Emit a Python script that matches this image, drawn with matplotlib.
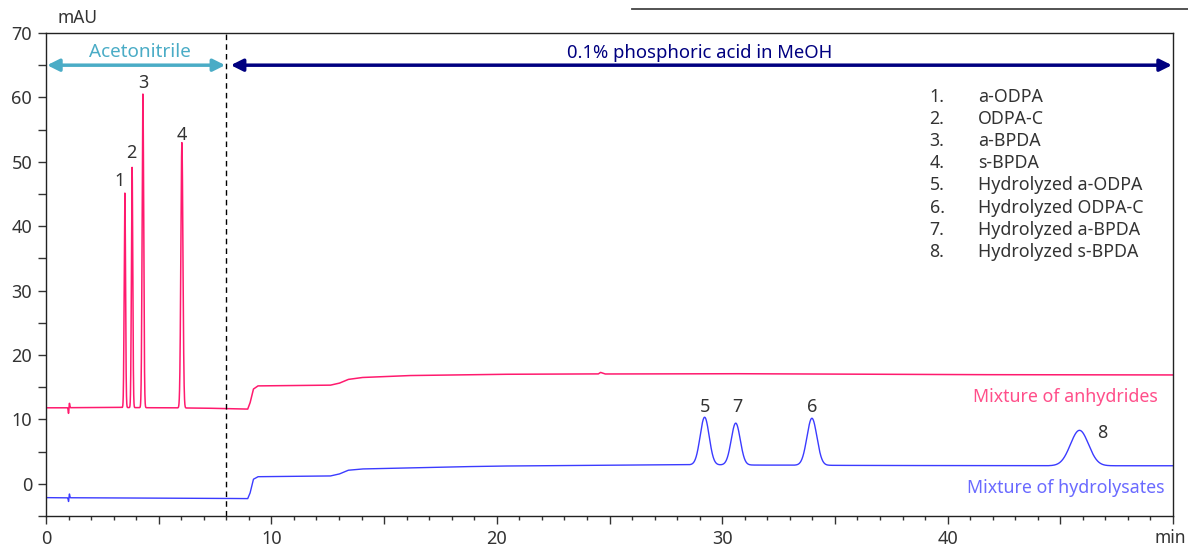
import numpy as np
import matplotlib.pyplot as plt
from matplotlib.ticker import MultipleLocator, FuncFormatter

plt.rcParams['font.family'] = ['Noto Sans', 'DejaVu Sans']

# peak tables: retention time (min), height above baseline (mAU), width (sigma, min)
anh_rt = [1.0, 1.04, 3.5, 3.82, 4.3, 6.03]
anh_h = [-0.9, 0.7, 33.3, 37.3, 48.7, 41.2]
anh_w = [0.015, 0.015, 0.03, 0.03, 0.035, 0.045]
hyd_rt = [1.0, 1.04, 29.22, 30.6, 33.98, 45.85]
hyd_h = [-0.6, 0.6, 7.4, 6.5, 7.3, 5.5]
hyd_w = [0.015, 0.015, 0.2, 0.2, 0.22, 0.4]

# baseline knots (min, mAU)
anh_bt = [0, 3, 7, 8.95, 9.05, 9.2, 9.4, 12.6, 13.0, 13.4, 14.0, 16.0, 20.0, 24.5, 24.6, 24.8, 30.0, 40.0, 50.0]
anh_bv = [11.8, 11.85, 11.75, 11.6, 12.5, 14.7, 15.2, 15.3, 15.6, 16.2, 16.5, 16.8, 17.0, 17.05, 17.3, 17.05, 17.1, 16.95, 16.9]
hyd_bt = [0, 3, 7, 8.95, 9.05, 9.2, 9.4, 12.6, 13.0, 13.4, 14.0, 17.7, 20.0, 28.0, 36.0, 44.0, 50.0]
hyd_bv = [-2.15, -2.2, -2.25, -2.3, -1.5, 0.7, 1.1, 1.2, 1.5, 2.1, 2.3, 2.6, 2.75, 2.95, 2.85, 2.8, 2.8]

legend_no = ['1.', '2.', '3.', '4.', '5.', '6.', '7.', '8.']
legend_names = ['a-ODPA', 'ODPA-C', 'a-BPDA', 's-BPDA', 'Hydrolyzed a-ODPA',
                'Hydrolyzed ODPA-C', 'Hydrolyzed a-BPDA', 'Hydrolyzed s-BPDA']

peak_labels = ['1', '2', '3', '4', '5', '7', '6', '8']
label_x = [3.28, 3.77, 4.3, 6.03, 29.24, 30.66, 34.0, 46.85]
label_y = [47.0, 51.4, 62.3, 54.2, 12.0, 12.0, 12.0, 7.9]

switch_time = 8.0

t = np.linspace(0, 50, 20001)


def trace(bt, bv, rt, h, w):
    y = np.interp(t, bt, bv)
    for r, a, s in zip(rt, h, w):
        y = y + a * np.exp(-0.5 * ((t - r) / s) ** 2)
    return y


anh = trace(anh_bt, anh_bv, anh_rt, anh_h, anh_w)
hyd = trace(hyd_bt, hyd_bv, hyd_rt, hyd_h, hyd_w)

fig = plt.figure(figsize=(11.88, 5.47), dpi=100)
ax = fig.add_axes([0.0387, 0.0567, 0.9487, 0.883])

pink = '#ff1a6e'
blue = '#3b3bff'
ax.plot(t, anh, color=pink, lw=1.1)
ax.plot(t, hyd, color=blue, lw=1.0)

ax.axvline(switch_time, color='black', lw=1.0, ls=(0, (4, 3)))

ax.set_xlim(0, 50)
ax.set_ylim(-5, 70)
ax.xaxis.set_major_locator(MultipleLocator(5))
ax.xaxis.set_minor_locator(MultipleLocator(1))
ax.yaxis.set_major_locator(MultipleLocator(5))
xfmt = FuncFormatter(lambda v, p: '%d' % v if round(v) % 10 == 0 and v < 45 else '')
yfmt = FuncFormatter(lambda v, p: '%d' % v if round(v) % 10 == 0 else '')
ax.xaxis.set_major_formatter(xfmt)
ax.yaxis.set_major_formatter(yfmt)
ax.tick_params(which='major', length=6, width=1, labelsize=13, colors='#333333', pad=4)
ax.tick_params(which='minor', length=3, width=1, colors='#333333')
for s in ax.spines.values():
    s.set_color('#222222')
    s.set_linewidth(1.0)

# eluent arrows
ax.annotate('', xy=(0.05, 65), xytext=(7.95, 65),
            arrowprops=dict(arrowstyle='<|-|>', color='#4aacc6', lw=2.5, mutation_scale=18, shrinkA=0, shrinkB=0))
ax.text(4.15, 67.0, 'Acetonitrile', color='#4aacc6', fontsize=13.6, ha='center', va='center')
ax.annotate('', xy=(8.2, 65), xytext=(49.95, 65),
            arrowprops=dict(arrowstyle='<|-|>', color='#000080', lw=2.5, mutation_scale=18, shrinkA=0, shrinkB=0))
ax.text(29.0, 66.9, '0.1% phosphoric acid in MeOH', color='#000080', fontsize=13.3, ha='center', va='center')

for lab, x, y in zip(peak_labels, label_x, label_y):
    ax.text(x, y, lab, fontsize=13, color='#333333', ha='center', va='center')

for i, (n, name) in enumerate(zip(legend_no, legend_names)):
    yy = 60.1 - i * 3.44
    ax.text(39.2, yy, n, fontsize=12.8, color='#333333', ha='left', va='center')
    ax.text(41.35, yy, name, fontsize=12.8, color='#333333', ha='left', va='center')

ax.text(49.3, 13.5, 'Mixture of anhydrides', color='#ff4f8a', fontsize=12.8, ha='right', va='center')
ax.text(49.6, -0.6, 'Mixture of hydrolysates', color='#6a6aff', fontsize=12.8, ha='right', va='center')

fig.text(0.048, 0.967, 'mAU', fontsize=12.5, color='#333333', ha='left', va='center')
fig.text(0.998, 0.016, 'min', fontsize=12.5, color='#333333', ha='right', va='center')

fig.add_artist(plt.Line2D([0.532, 1.0], [0.983, 0.983], color='#444444', lw=1.3))

fig.savefig('out.png', dpi=100)
